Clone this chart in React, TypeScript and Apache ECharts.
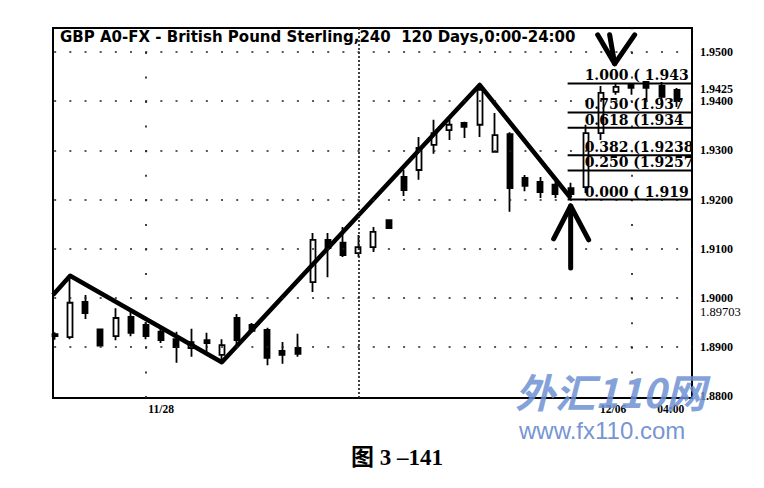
import React, { useEffect, useRef } from "react";
import * as echarts from "echarts";

// Candle index (4-hour bars), open, close, low, high
const candleIndex = [
  0, 1, 2, 3, 4, 5, 6, 7, 8, 9, 10, 11, 12, 13, 14, 15, 16, 17, 18, 19, 20,
  21, 22, 23, 24, 25, 26, 27, 28, 29, 30, 31, 32, 33, 34, 35, 36, 37, 38, 39, 40, 41,
];
const opens = [
  1.8926, 1.8920, 1.8992, 1.8936, 1.8922, 1.8961, 1.8945, 1.8931, 1.8916, 1.8898, 1.8914,
  1.8884, 1.8959, 1.8945, 1.8935, 1.8892, 1.8898, 1.9032, 1.9118, 1.9112, 1.9091,
  1.9103, 1.9158, 1.9246, 1.9260, 1.9311, 1.9341, 1.9356, 1.9352, 1.9297, 1.9333,
  1.9244, 1.9236, 1.9230, 1.9223, 1.9225, 1.9335, 1.9419, 1.9433, 1.9439, 1.9431, 1.9423,
];
const closes = [
  1.8922, 1.8990, 1.8969, 1.8903, 1.8959, 1.8929, 1.8922, 1.8914, 1.8900, 1.8910, 1.8908,
  1.8904, 1.8914, 1.8933, 1.8878, 1.8884, 1.8886, 1.9118, 1.9101, 1.9087, 1.9103,
  1.9134, 1.9142, 1.9219, 1.9305, 1.9335, 1.9352, 1.9348, 1.9423, 1.9331, 1.9223,
  1.9228, 1.9215, 1.9211, 1.9211, 1.9335, 1.9417, 1.9429, 1.9427, 1.9427, 1.9409, 1.9400,
];
const lows = [
  1.8915, 1.8916, 1.8957, 1.8902, 1.8914, 1.8922, 1.8916, 1.8908, 1.8868, 1.8880, 1.8890,
  1.8868, 1.8900, 1.8929, 1.8863, 1.8866, 1.8880, 1.9012, 1.9042, 1.9083, 1.9083,
  1.9093, 1.9140, 1.9207, 1.9240, 1.9293, 1.9321, 1.9325, 1.9327, 1.9295, 1.9175,
  1.9217, 1.9203, 1.9203, 1.9201, 1.9213, 1.9321, 1.9413, 1.9413, 1.9402, 1.9400, 1.9388,
];
const highs = [
  1.8930, 1.9047, 1.9006, 1.8937, 1.8979, 1.8971, 1.8951, 1.8939, 1.8931, 1.8937, 1.8929,
  1.8916, 1.8967, 1.8949, 1.8939, 1.8910, 1.8927, 1.9132, 1.9132, 1.9144, 1.9128,
  1.9144, 1.9160, 1.9260, 1.9327, 1.9362, 1.9362, 1.9358, 1.9433, 1.9376, 1.9337,
  1.9250, 1.9246, 1.9240, 1.9234, 1.9352, 1.9431, 1.9437, 1.9437, 1.9441, 1.9439, 1.9427,
];

// Zigzag swing line (x in candle index, price)
const zigzagX = [-0.13, 1, 11, 28, 34];
const zigzagY = [1.9006, 1.9045, 1.8869, 1.9433, 1.9203];

// Fibonacci retracement
const fibLow = 1.92;
const fibHigh = 1.9436;
const fibStartX = 33.8;
const fibRatios = [1.0, 0.75, 0.618, 0.382, 0.25, 0.0];
const fibLabels = [
  "1.000 ( 1.943",
  "0.750 (1.937",
  "0.618 (1.934",
  "0.382 (1.9238",
  "0.250 (1.9257",
  "0.000 ( 1.919",
];

// Arrows: x (candle index), price at tip, direction (1 = up, -1 = down)
const arrowX = [34, 36.9];
const arrowY = [1.9187, 1.9476];
const arrowDir = [1, -1];

// Axis labels
const yLabelValues = [1.95, 1.9425, 1.94, 1.93, 1.92, 1.91, 1.9, 1.89703, 1.89, 1.88];
const yLabelTexts = ["1.9500", "1.9425", "1.9400", "1.9300", "1.9200", "1.9100", "1.9000", "1.89703", "1.8900", "1.8800"];
const xLabelValues = [7, 36.8, 40.6];
const xLabelTexts = ["11/28", "12/06", "04:00"];

// Dotted grid
const gridRows = [1.89, 1.9, 1.91, 1.92, 1.93, 1.94, 1.95];
const sparseCols = [6, 38];
const denseCols = [20];

const titleText = "GBP A0-FX - British Pound Sterling,240 \u00a0120 Days,0:00-24:00";
const captionText = "图 3 –141";

export default function App() {
  const ref = useRef<HTMLDivElement>(null);

  useEffect(() => {
    if (!ref.current) return;
    const chart = echarts.init(ref.current, null, { renderer: "svg" });

    const candleData = candleIndex.map((x, k) => [x, opens[k], closes[k], lows[k], highs[k]]);
    const zigzag = zigzagX.map((x, k) => [x, zigzagY[k]]);
    const fibData = fibRatios.map((r, k) => [fibStartX, fibLow + r * (fibHigh - fibLow), k]);
    const arrowData = arrowX.map((x, k) => [x, arrowY[k], arrowDir[k]]);

    const gridMarks: any[] = [];
    gridRows.forEach((v) =>
      gridMarks.push({ yAxis: v, lineStyle: { type: [2, 13.17], dashOffset: 14.17 } })
    );
    sparseCols.forEach((v) =>
      gridMarks.push({ xAxis: v, lineStyle: { type: [2, 22.58], dashOffset: 0 } })
    );
    denseCols.forEach((v) => gridMarks.push({ xAxis: v, lineStyle: { type: [2, 2] } }));

    const findText = (vals: number[], texts: string[], v: number) => {
      const k = vals.findIndex((p) => Math.abs(p - v) < 1e-6);
      return k >= 0 ? texts[k] : "";
    };

    chart.setOption({
      animation: false,
      backgroundColor: "#ffffff",
      grid: {
        left: 53,
        top: 28,
        right: 72,
        bottom: 90,
        show: true,
        borderColor: "#000",
        borderWidth: 2,
        containLabel: false,
        outerBoundsMode: "none",
      },
      xAxis: {
        type: "value",
        min: -0.13,
        max: 42,
        axisLine: { show: false },
        axisTick: { show: false },
        splitLine: { show: false },
        axisLabel: {
          customValues: xLabelValues,
          formatter: (v: number) => findText(xLabelValues, xLabelTexts, v),
          color: "#000",
          fontFamily: "Liberation Serif",
          fontWeight: "bold",
          fontSize: 11.5,
          margin: 5,
        },
      },
      yAxis: {
        type: "value",
        position: "right",
        min: 1.87963,
        max: 1.95488,
        scale: true,
        axisLine: { show: false },
        axisTick: { show: false },
        splitLine: { show: false },
        axisLabel: {
          customValues: yLabelValues,
          formatter: (v: number) => {
            const t = findText(yLabelValues, yLabelTexts, v);
            return t.length > 6 ? "{n|" + t + "}" : "{b|" + t + "}";
          },
          margin: 8,
          rich: {
            b: { color: "#000", fontFamily: "Liberation Serif", fontWeight: "bold", fontSize: 12 },
            n: { color: "#000", fontFamily: "Liberation Serif", fontWeight: "normal", fontSize: 12.5 },
          },
        },
      },
      series: [
        {
          type: "line",
          data: [],
          z: 1,
          silent: true,
          markLine: {
            silent: true,
            symbol: ["none", "none"],
            label: { show: false },
            lineStyle: { color: "#222", width: 1.7 },
            data: gridMarks,
          },
        },
        {
          type: "candlestick",
          data: candleData,
          encode: { x: 0, y: [1, 2, 3, 4] },
          barWidth: 5.5,
          z: 3,
          itemStyle: {
            color: "#ffffff",
            color0: "#000000",
            borderColor: "#000000",
            borderColor0: "#000000",
            borderColorDoji: "#000000",
            borderWidth: 1.8,
          },
        },
        {
          type: "line",
          data: zigzag,
          showSymbol: false,
          symbol: "none",
          z: 4,
          lineStyle: { color: "#000", width: 4.5, join: "round" },
        },
        {
          type: "custom",
          data: fibData,
          z: 5,
          clip: true,
          silent: true,
          renderItem: (params: any, api: any) => {
            const k = api.value(2);
            const p = api.coord([api.value(0), api.value(1)]);
            const cs = params.coordSys;
            const right = cs.x + cs.width;
            return {
              type: "group",
              children: [
                {
                  type: "line",
                  shape: { x1: p[0], y1: p[1], x2: right, y2: p[1] },
                  style: { stroke: "#000", lineWidth: 2 },
                },
                {
                  type: "text",
                  x: p[0] + 17,
                  y: p[1] - 1,
                  style: {
                    text: fibLabels[k],
                    fill: "#000",
                    font: 'bold 14px "DejaVu Serif"',
                    align: "left",
                    verticalAlign: "bottom",
                    textAlign: "left",
                    textVerticalAlign: "bottom",
                  },
                },
              ],
            };
          },
        },
        {
          type: "custom",
          data: arrowData,
          z: 6,
          clip: false,
          silent: true,
          renderItem: (params: any, api: any) => {
            const p = api.coord([api.value(0), api.value(1)]);
            const dir = api.value(2);
            const st = { stroke: "#000", lineWidth: 5, lineCap: "round", lineJoin: "round", fill: null };
            if (dir > 0) {
              return {
                type: "group",
                children: [
                  { type: "polyline", shape: { points: [[p[0] - 17, p[1] + 33], [p[0], p[1]], [p[0] + 18, p[1] + 34]] }, style: st },
                  { type: "line", shape: { x1: p[0], y1: p[1], x2: p[0], y2: p[1] + 62 }, style: st },
                ],
              };
            }
            return {
              type: "group",
              children: [
                { type: "polyline", shape: { points: [[p[0] - 17, p[1] - 29], [p[0], p[1]], [p[0] + 20, p[1] - 29]] }, style: st },
                { type: "line", shape: { x1: p[0] - 5, y1: p[1] - 29, x2: p[0], y2: p[1] }, style: st },
              ],
            };
          },
        },
      ],
      graphic: [
        {
          type: "text",
          x: 60,
          y: 29,
          z: 10,
          style: {
            text: titleText,
            fill: "#000",
            font: 'bold 15px "DejaVu Sans"',
            verticalAlign: "top",
            textVerticalAlign: "top",
          },
        },
        {
          type: "text",
          x: 515,
          y: 391,
          z: 10,
          style: {
            text: "外汇110网",
            fill: "rgba(110,145,210,0.85)",
            font: 'italic bold 40px "Noto Sans CJK SC"',
            verticalAlign: "middle",
            textVerticalAlign: "middle",
          },
        },
        {
          type: "text",
          x: 519,
          y: 430,
          z: 10,
          style: {
            text: "www.fx110.com",
            fill: "rgba(100,135,205,0.9)",
            font: '24px "Liberation Sans"',
            verticalAlign: "middle",
            textVerticalAlign: "middle",
          },
        },
        {
          type: "text",
          x: 397,
          y: 457,
          z: 10,
          style: {
            text: captionText,
            fill: "#000",
            font: 'bold 23px "Liberation Serif", "Noto Sans CJK SC"',
            align: "center",
            textAlign: "center",
            verticalAlign: "middle",
            textVerticalAlign: "middle",
          },
        },
      ],
    });

    return () => chart.dispose();
  }, []);

  return (
    <div
      ref={ref}
      style={{ position: "fixed", left: 0, top: 0, width: 764, height: 488, background: "#fff" }}
    />
  );
}
